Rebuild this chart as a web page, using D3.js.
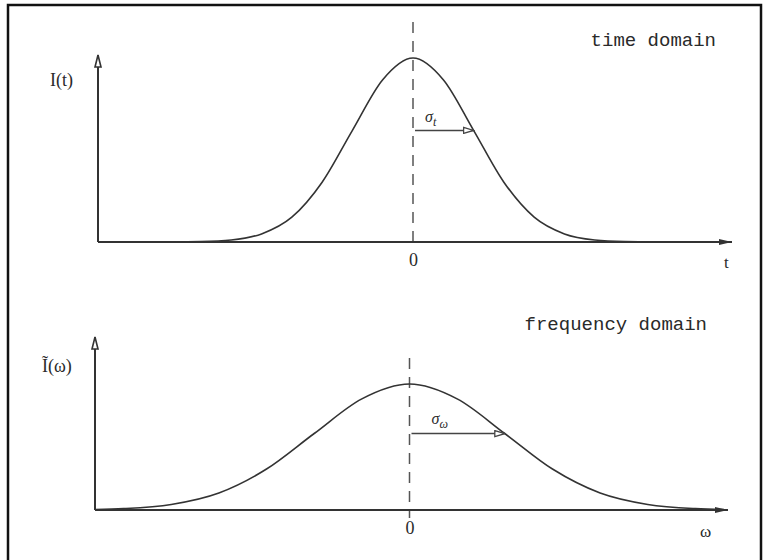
<html>
<head>
  <title>time / frequency domain</title>
  <script src="https://d3js.org/d3.v7.min.js"></script>
  <style>
    body { margin: 0; background: #fff; }
    text { fill: #2a2a2a; }
    .lbl { font-family: "Liberation Mono", monospace; font-size: 19px; }
    .sym { font-family: "Liberation Serif", serif; font-size: 18px; }
    .tick text { font-family: "Liberation Serif", serif; font-size: 18px; fill: #2a2a2a; }
  </style>
</head>
<body>
<div id="chart"></div>
<script>
// top panel: I(t), t in units of sigma_t
var timeT = [-5.2, -4.5, -4, -3.5, -3, -2.5, -2, -1.5, -1, -0.5, 0, 0.5, 1, 1.5, 2, 2.5, 3, 3.5, 4, 4.5, 5.2];
var timeI = [0, 0.0001, 0.0004, 0.0022, 0.011, 0.044, 0.135, 0.325, 0.607, 0.882, 1, 0.882, 0.607, 0.325, 0.135, 0.044, 0.011, 0.0022, 0.0004, 0.0001, 0];
// bottom panel: I~(w), w in units of sigma_w
var freqW = [-3.3, -3, -2.5, -2, -1.5, -1, -0.5, 0, 0.5, 1, 1.5, 2, 2.5, 3, 3.3];
var freqI = [0.004, 0.011, 0.044, 0.135, 0.325, 0.607, 0.882, 1, 0.882, 0.607, 0.325, 0.135, 0.044, 0.011, 0.004];
var tickVals = [0];
var timeSigma = 1, freqSigma = 1;

var svg = d3.select("#chart").append("svg")
  .attr("width", 765).attr("height", 560);

// frame (bottom edge is cut off in the scan)
svg.append("rect")
  .attr("x", 8).attr("y", 5).attr("width", 753).attr("height", 600)
  .attr("fill", "none").attr("stroke", "#111").attr("stroke-width", 2.5);

var defs = svg.append("defs");
// open, narrow head for the vertical axes (drawn pointing +x, rotated by orient)
defs.append("marker").attr("id", "yhead")
  .attr("viewBox", "0 0 15 9").attr("refX", 13).attr("refY", 4.5)
  .attr("markerWidth", 15).attr("markerHeight", 9).attr("markerUnits", "userSpaceOnUse")
  .attr("orient", "auto")
  .append("path").attr("d", "M1,1.5L13,4.5L1,7.5Z")
  .attr("fill", "#fff").attr("stroke", "#333").attr("stroke-width", 1.6);
defs.append("marker").attr("id", "xhead")
  .attr("viewBox", "0 0 14 8").attr("refX", 13).attr("refY", 4)
  .attr("markerWidth", 14).attr("markerHeight", 8).attr("markerUnits", "userSpaceOnUse")
  .attr("orient", "auto")
  .append("path").attr("d", "M0,1L13,4L0,7Z").attr("fill", "#333");
defs.append("marker").attr("id", "shead")
  .attr("viewBox", "0 0 12 8").attr("refX", 11).attr("refY", 4)
  .attr("markerWidth", 12).attr("markerHeight", 8).attr("markerUnits", "userSpaceOnUse")
  .attr("orient", "auto")
  .append("path").attr("d", "M1,1L11,4L1,7Z")
  .attr("fill", "#fff").attr("stroke", "#444").attr("stroke-width", 1.3);

function panel(cfg) {
  var x = d3.scaleLinear().domain(cfg.xDomain).range(cfg.xRange);
  var y = d3.scaleLinear().domain([0, 1]).range(cfg.yRange);
  var g = svg.append("g");

  // dashed centre line
  g.append("line")
    .attr("x1", x(0)).attr("x2", x(0))
    .attr("y1", cfg.dashTop).attr("y2", y(0) + 8)
    .attr("stroke", "#555").attr("stroke-width", 1.5)
    .attr("stroke-dasharray", "11,8");

  // x axis
  var ax = g.append("g")
    .attr("transform", "translate(0," + y(0) + ")")
    .call(d3.axisBottom(x).tickValues(tickVals).tickSize(0).tickSizeOuter(0).tickPadding(11).tickFormat(d3.format("d")));
  ax.select(".domain")
    .attr("d", "M" + x.range()[0] + ",0H" + (x.range()[1] + 4))
    .attr("stroke", "#333").attr("stroke-width", 2)
    .attr("marker-end", "url(#xhead)");
  ax.selectAll(".tick text").attr("dy", "0.71em");

  // y axis
  g.append("line")
    .attr("x1", x.range()[0]).attr("x2", x.range()[0])
    .attr("y1", y(0)).attr("y2", cfg.yTip)
    .attr("stroke", "#333").attr("stroke-width", 2)
    .attr("marker-end", "url(#yhead)");

  // curve
  var line = d3.line()
    .x(function (d) { return x(d[0]); })
    .y(function (d) { return y(d[1]); })
    .curve(d3.curveMonotoneX);
  g.append("path")
    .datum(d3.zip(cfg.xs, cfg.ys))
    .attr("d", line)
    .attr("fill", "none").attr("stroke", "#333").attr("stroke-width", 1.6);

  // sigma arrow
  var sy = y(Math.exp(-0.5));
  g.append("line")
    .attr("x1", x(0) + 2).attr("x2", x(cfg.sigma))
    .attr("y1", sy).attr("y2", sy)
    .attr("stroke", "#444").attr("stroke-width", 1.5)
    .attr("marker-end", "url(#shead)");
  var st = g.append("text").attr("class", "sym")
    .attr("x", x(0) + cfg.sigOff[0]).attr("y", sy + cfg.sigOff[1])
    .style("font-style", "italic").style("font-size", "16px");
  st.append("tspan").text("σ");
  st.append("tspan").attr("dy", 4).style("font-size", "12px").text(cfg.sub);

  // labels
  g.append("text").attr("class", "lbl")
    .attr("x", cfg.title[0]).attr("y", cfg.title[1])
    .attr("text-anchor", "end").text(cfg.titleText);
  g.append("text").attr("class", "sym")
    .attr("x", cfg.ylab[0]).attr("y", cfg.ylab[1]).text(cfg.ylabText);
  g.append("text").attr("class", "sym")
    .attr("x", cfg.xlab[0]).attr("y", cfg.xlab[1]).style("font-size", "17px").text(cfg.xlabText);
}

panel({
  xDomain: [-5.2, 5.2], xRange: [98, 728],
  yRange: [242, 58], yTip: 55, dashTop: 22,
  xs: timeT, ys: timeI, sigma: timeSigma, sub: "t", sigOff: [12, -8],
  title: [716, 46], titleText: "time domain",
  ylab: [50, 86], ylabText: "I(t)",
  xlab: [724, 268], xlabText: "t"
});

panel({
  xDomain: [-3.3, 3.3], xRange: [95, 724],
  yRange: [510, 384], yTip: 337, dashTop: 358,
  xs: freqW, ys: freqI, sigma: freqSigma, sub: "ω", sigOff: [22, -10],
  title: [707, 330], titleText: "frequency domain",
  ylab: [42, 372], ylabText: "Ĩ(ω)",
  xlab: [700, 537], xlabText: "ω"
});
</script>
</body>
</html>
